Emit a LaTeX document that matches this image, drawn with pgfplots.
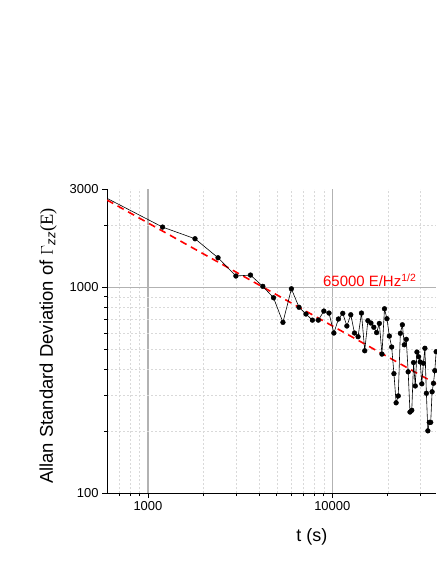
\documentclass[border=0pt]{standalone}
\usepackage{fontspec}
\setmainfont{Liberation Sans}
\newfontfamily\serif{Liberation Serif}
\usepackage{pgfplots}
\usepackage{pgfplotstable}
\pgfplotsset{compat=1.18}

% Allan deviation vs averaging time, t = 600 s steps
\pgfplotstableread{
t y
600 2705
1200 1962
1800 1722
2400 1392
3000 1135
3600 1147
4200 1011
4800 890
5400 676
6000 984
6600 800
7200 742
7800 693
8400 693
9000 767
9600 750
10200 600
10800 702
11400 748
12000 649
12600 736
13200 600
13800 576
14400 750
15000 492
15600 689
16200 671
16800 640
17400 603
18000 668
18600 474
19200 787
19800 704
20400 580
21000 513
21600 381
22200 275
22800 297
23400 598
24000 658
24600 526
25200 559
25800 389
26400 248
27000 253
27600 431
28200 332
28800 485
29400 460
30000 434
30600 340
31200 428
31800 506
32400 306
33000 201
33600 221
34200 221
34800 311
35400 342
36000 394
36600 487
}\allan

\begin{document}
\begin{tikzpicture}
\begin{axis}[
    name=ax,
    scale only axis,
    width=329bp, height=304bp,
    xmode=log, ymode=log,
    xmin=600, xmax=36650,
    ymin=100, ymax=3000,
    axis x line*=bottom, axis y line*=left,
    axis line style={line width=1bp},
    tick align=outside,
    major tick length=5bp, minor tick length=3bp,
    tick style={black, line width=0.7bp},
    xtick={1000,10000}, xticklabels={1000,10000},
    minor xtick={700,800,900,2000,3000,4000,5000,6000,7000,8000,9000,20000,30000},
    ytick={100,1000}, yticklabels={100,1000},
    extra y ticks={3000}, extra y tick labels={3000},
    extra y tick style={grid=none},
    minor ytick={200,300,400,500,600,700,800,900,2000},
    grid=both,
    major x grid style={gray!60, line width=1.2bp},
    major y grid style={gray!60, line width=0.8bp},
    minor grid style={gray!30, dash pattern=on 2bp off 2bp, line width=0.5bp},
    ticklabel style={font=\fontsize{13}{15}\selectfont},
    xlabel={t (s)},
    xlabel style={font=\fontsize{18}{20}\selectfont, at={(axis description cs:0.622,-0.143)}, anchor=center},
    ylabel={Allan Standard Deviation of {\serif$\Gamma_{\mathit{zz}}$(E)}},
    ylabel style={font=\fontsize{18.5}{20}\selectfont, at={(axis description cs:-0.179,0.484)}, anchor=center},
]
\addplot[red, line width=1.6bp, dash pattern=on 7bp off 5bp] coordinates {(600,2654) (36650,339.5)};
\addplot[black, line width=0.6bp, no markers] table[x=t, y=y] {\allan};
\addplot[only marks, mark=*, mark size=2.4bp, black, skip coords between index={0}{1}] table[x=t, y=y] {\allan};
\node[anchor=base west, red, font=\fontsize{15}{17}\selectfont, inner sep=0pt] at (axis cs:8900,1008) {65000 E/Hz\textsuperscript{1/2}};
\end{axis}
\pgfresetboundingbox
\path[use as bounding box] ([xshift=-107bp, yshift=-70.7bp]ax.south west) rectangle ([yshift=189bp]ax.north east);
\end{tikzpicture}
\end{document}
